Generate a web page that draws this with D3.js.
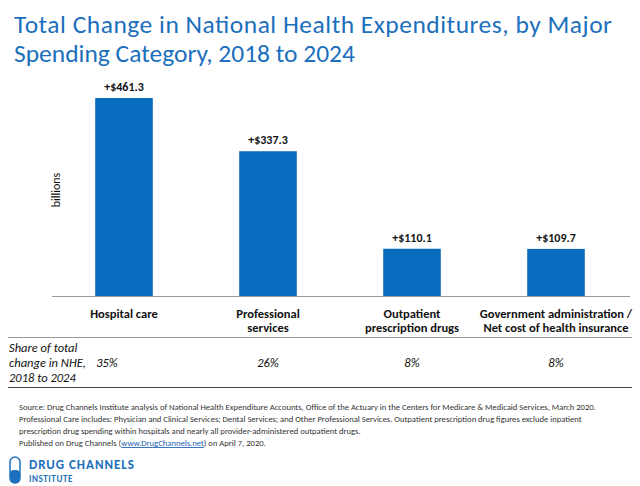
<!DOCTYPE html>
<html><head><meta charset="utf-8">
<script src="https://cdn.jsdelivr.net/npm/d3@7"></script>
<style>body{margin:0;background:#fff}svg{font-family:Calibri,Carlito,"Open Sans",sans-serif}</style>
</head><body><div id="chart"></div>
<script>
const categories = [["Hospital care"], ["Professional", "services"], ["Outpatient", "prescription drugs"], ["Government administration /", "Net cost of health insurance"]];
const values = [461.3, 337.3, 110.1, 109.7];
const shares = ["35%", "26%", "8%", "8%"];
const notes = [
  "Source: Drug Channels Institute analysis of National Health Expenditure Accounts, Office of the Actuary in the Centers for Medicare & Medicaid Services, March 2020.",
  "Professional Care includes: Physician and Clinical Services; Dental Services; and Other Professional Services. Outpatient prescription drug figures exclude inpatient",
  "prescription drug spending within hospitals and nearly all provider-administered outpatient drugs."
];

const width = 640, height = 486, blue = "#0a6cbf";
const svg = d3.select("#chart").append("svg").attr("width", width).attr("height", height);

// title
svg.append("text").attr("fill", "#1b6fbd").attr("font-size", 25.5)
  .selectAll("tspan").data(["Total Change in National Health Expenditures, by Major", "Spending Category, 2018 to 2024"])
  .join("tspan").attr("x", 14).attr("y", (d, i) => 33 + i * 29).attr("textLength", (d, i) => i === 0 ? 598 : null).text(d => d);

const x = d3.scaleBand().domain(d3.range(values.length)).range([52, 628]).paddingInner(0.6).paddingOuter(0.3);
const y = d3.scaleLinear().domain([0, 461.3]).range([296, 98]);

svg.selectAll("rect.bar").data(values).join("rect").attr("class", "bar")
  .attr("x", (d, i) => x(i)).attr("width", x.bandwidth())
  .attr("y", d => y(d)).attr("height", d => y(0) - y(d)).attr("fill", blue);

svg.selectAll("text.val").data(values).join("text").attr("class", "val")
  .attr("x", (d, i) => x(i) + x.bandwidth() / 2).attr("y", d => y(d) - 7)
  .attr("text-anchor", "middle").attr("font-size", 12).attr("font-weight", "bold").attr("fill", "#111")
  .text(d => "+$" + d.toFixed(1));

svg.append("line").attr("x1", 52).attr("x2", 630).attr("y1", 296.5).attr("y2", 296.5).attr("stroke", "#999");

svg.append("text").attr("transform", "translate(60,190) rotate(-90)").attr("text-anchor", "middle")
  .attr("font-size", 12).attr("fill", "#111").text("billions");

// category labels
svg.selectAll("text.cat").data(categories).join("text").attr("class", "cat")
  .attr("text-anchor", "middle").attr("font-size", 12.5).attr("font-weight", "bold").attr("fill", "#111")
  .each(function(d, i) {
    d3.select(this).selectAll("tspan").data(d).join("tspan")
      .attr("x", Math.min(x(i) + x.bandwidth() / 2, 559)).attr("y", (t, j) => 318 + j * 14).text(t => t);
  });

svg.append("line").attr("x1", 8).attr("x2", 632).attr("y1", 337.5).attr("y2", 337.5).attr("stroke", "#999");
svg.append("line").attr("x1", 8).attr("x2", 632).attr("y1", 387.5).attr("y2", 387.5).attr("stroke", "#444");

svg.append("text").attr("font-size", 12.5).attr("font-style", "italic").attr("fill", "#111")
  .selectAll("tspan").data(["Share of total", "change in NHE,", "2018 to 2024"])
  .join("tspan").attr("x", 9).attr("y", (d, i) => 352 + i * 15).text(d => d);

svg.selectAll("text.share").data(shares).join("text").attr("class", "share")
  .attr("x", (d, i) => i === 0 ? 107 : x(i) + x.bandwidth() / 2)
  .attr("y", 367).attr("text-anchor", "middle").attr("font-size", 12.5).attr("font-style", "italic").attr("fill", "#111")
  .text(d => d);

// notes
const nt = svg.append("g").attr("font-size", 8.6).attr("fill", "#333");
notes.forEach((t, i) => nt.append("text").attr("x", 19).attr("y", 410 + i * 12).text(t));
const pub = nt.append("text").attr("x", 19).attr("y", 446);
pub.append("tspan").text("Published on Drug Channels (");
pub.append("tspan").attr("fill", "#1a5fb4").attr("text-decoration", "underline").text("www.DrugChannels.net");
pub.append("tspan").text(") on April 7, 2020.");

// logo
const lg = svg.append("g");
lg.append("rect").attr("x", 10).attr("y", 457).attr("width", 10).attr("height", 26).attr("rx", 5).attr("fill", "none").attr("stroke", "#1b6fbd").attr("stroke-width", 1.5);
lg.append("rect").attr("x", 10).attr("y", 470).attr("width", 10).attr("height", 13).attr("rx", 4).attr("fill", "#1b6fbd");
lg.append("text").attr("x", 29).attr("y", 469).attr("font-size", 13).attr("font-weight", "bold").attr("fill", "#1b6fbd").attr("letter-spacing", 1).text("DRUG CHANNELS");
lg.append("text").attr("x", 29).attr("y", 482).attr("font-size", 9).attr("font-weight", "bold").attr("fill", "#1b6fbd").attr("letter-spacing", 0.6).text("INSTITUTE");
</script></body></html>
